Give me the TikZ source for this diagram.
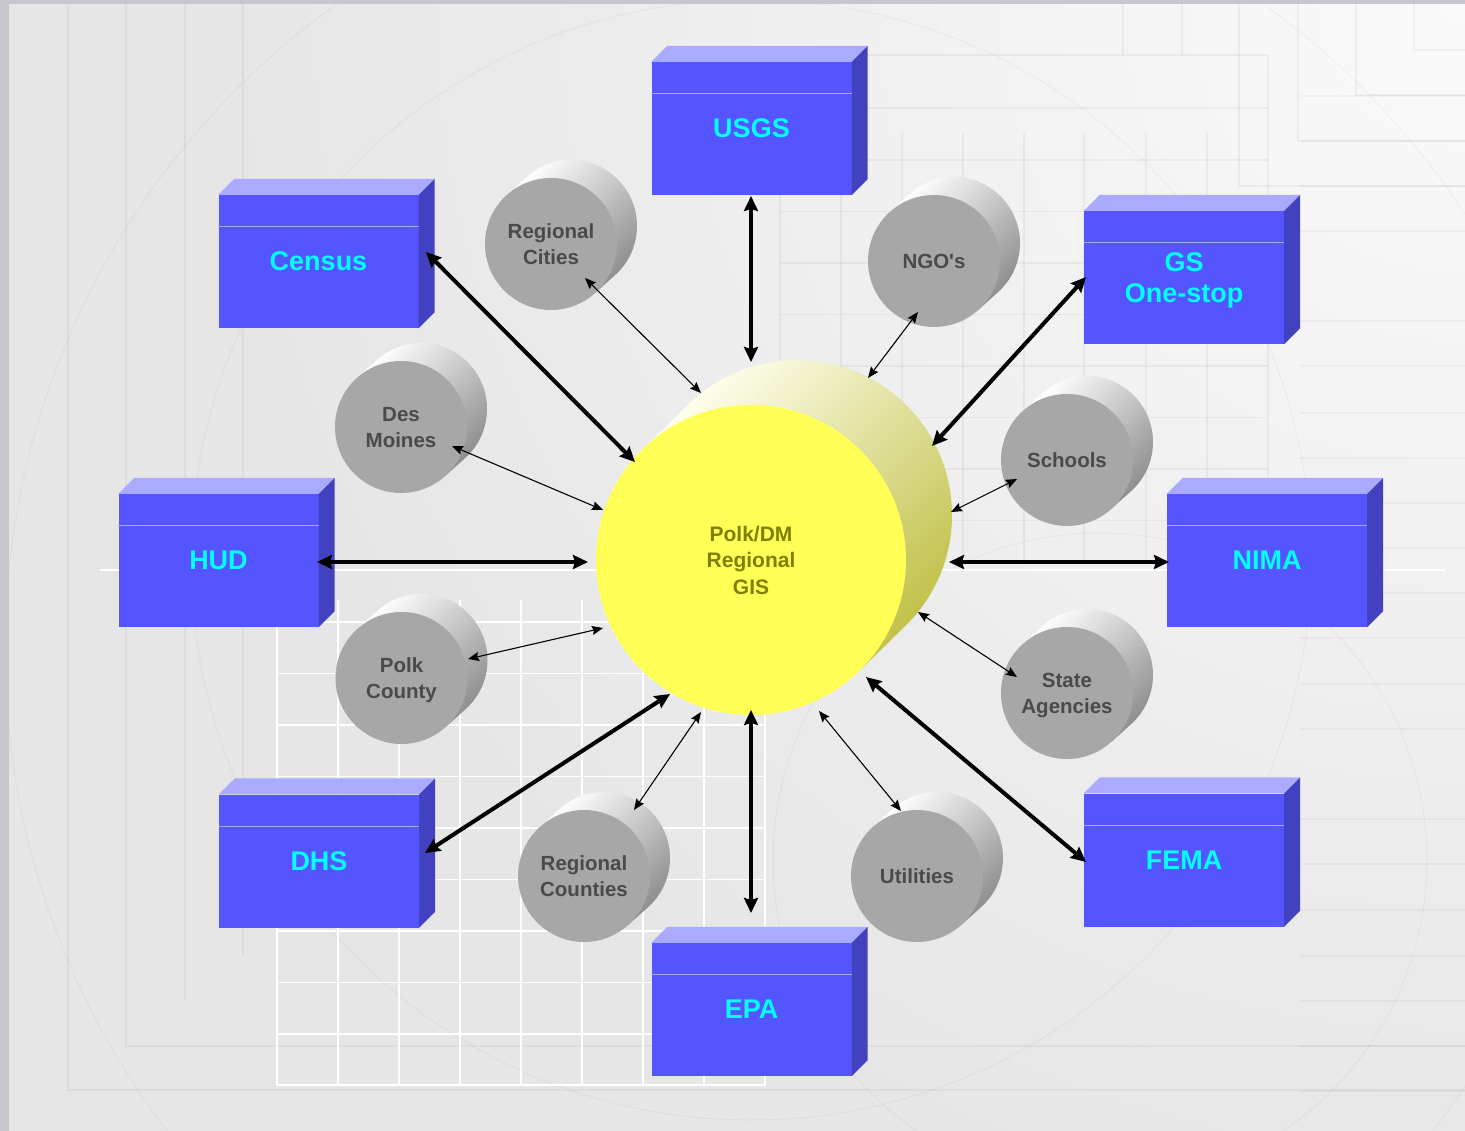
\documentclass[tikz,border=0pt]{standalone}
\usepackage{fontspec}
\setmainfont{Liberation Sans}[Ligatures=TeXOff]
\usetikzlibrary{arrows.meta}
\definecolor{bgbase}{RGB}{230,230,231}
\definecolor{strip}{RGB}{198,199,206}
\definecolor{boxfront}{RGB}{85,85,255}
\definecolor{boxtop}{RGB}{170,170,255}
\definecolor{boxside}{RGB}{66,66,192}
\definecolor{labcyan}{RGB}{0,255,255}
\definecolor{cylgray}{RGB}{167,167,167}
\definecolor{cylsidedark}{RGB}{140,140,140}
\definecolor{cyltext}{RGB}{74,74,74}
\definecolor{gisfront}{RGB}{255,255,85}
\definecolor{gisside1}{RGB}{255,255,240}
\definecolor{gisside2}{RGB}{192,192,70}
\definecolor{gistext}{RGB}{128,128,0}
\tikzset{
  cube/.style={fill=boxfront, minimum width=200pt, minimum height=133pt, inner sep=0pt,
    text=labcyan, font=\bfseries\fontsize{27}{31}\selectfont, align=center, text depth=0pt},
  cubetop/.style={fill=boxtop},
  cubeside/.style={fill=boxside},
  cuberule/.style={draw=boxtop, line width=1pt},
  graycyl/.style={circle, fill=cylgray, minimum size=132pt, inner sep=0pt,
    text=cyltext, font=\bfseries\fontsize{20.5}{26}\selectfont, align=center, text depth=0pt},
  giscyl/.style={circle, fill=gisfront, minimum size=310pt, inner sep=0pt,
    text=gistext, font=\bfseries\fontsize{21}{26.5}\selectfont, align=center},
  bigarrow/.style={line width=4pt, {Stealth[length=15pt,width=14pt,inset=2pt]}-{Stealth[length=15pt,width=14pt,inset=2pt]}},
  smallarrow/.style={line width=1.1pt, {Stealth[length=11pt,width=9pt,inset=1.5pt]}-{Stealth[length=11pt,width=9pt,inset=1.5pt]}},
  bgline/.style={draw=black, draw opacity=0.045, line width=1.3pt},
  bgarc/.style={draw=black, draw opacity=0.035, line width=1pt},
  bgwhite/.style={draw=white, line width=1.6pt},
}
\newcommand\bluecube[4]{%
  \node[cube] (#1) at (#2,#3) {#4};
  \fill[cubetop] (#1.north west) -- ++(16,-16) -- ([shift={(16,-16)}]#1.north east) -- (#1.north east) -- cycle;
  \fill[cubeside] (#1.north east) -- ++(16,-16) -- ([shift={(16,-16)}]#1.south east) -- (#1.south east) -- cycle;
  \draw[cuberule] ([shift={(0,32)}]#1.north west) -- ([shift={(0,32)}]#1.north east);
}
\newcommand\graycylinder[4]{%
  \shade[left color=white, right color=cylsidedark, shading angle=45]
    (#2,#3) ++(-132:66) -- ++(20,-18) arc[start angle=-132, end angle=48, radius=66] -- ++(-20,18) -- cycle;
  \node[graycyl] (#1) at (#2,#3) {#4};
}
\begin{document}
\begin{tikzpicture}[x=1pt,y=-1pt]
\useasboundingbox (0,0) rectangle (1465,1131);
% background
\fill[bgbase] (0,0) rectangle (1465,1131);
\begin{scope}
  \clip (0,0) rectangle (1465,1131);
  \shade[inner color=white!98!black, outer color=bgbase] (1465,0) circle (1250);
  % faint arcs
  \draw[bgarc] (800,650) circle (795);
  \draw[bgarc] (751,560) circle (560);
  \draw[bgarc] (1100,860) circle (327);
  % right-hand faint rules
  \foreach \gy in {96,141,186,231,321,366,413,458,503,548,593,638,684,729,819,864,910,956,1001,1046,1091}
    \draw[bgline, draw opacity=0.03] (1300,\gy) -- (1465,\gy);
  % left nested frames
  \draw[bgline] (68,4) -- (68,1090) -- (1465,1090);
  \draw[bgline] (126,4) -- (126,1046) -- (1465,1046);
  \draw[bgline] (185,4) -- (185,1000);
  \draw[bgline] (243,4) -- (243,955);
  % top-right nested frames
  \draw[bgline] (1298,4) -- (1298,141) -- (1465,141);
  \draw[bgline] (1356,4) -- (1356,95) -- (1465,95);
  \draw[bgline] (1414,4) -- (1414,50) -- (1465,50);
  \draw[bgline] (1239,4) -- (1239,186) -- (1465,186);
  \draw[bgline] (1123,4) -- (1123,55);
  \draw[bgline] (1182,4) -- (1182,55);
  \draw[bgline] (867,55) -- (1268,55) -- (1268,560);
  \draw[bgline] (867,108) -- (1268,108);
  % upper-right grid
  \foreach \gx in {780,841,902,963,1024,1084,1146,1207}
    \draw[bgline] (\gx,133) -- (\gx,560);
  \foreach \gy in {160,211.5,263,314.5,366,417.5,469,520.5}
    \draw[bgline] (780,\gy) -- (1268,\gy);
  % lower-left white grid
  \foreach \gx in {277,338,399,460,521,582,643,704,765}
    \draw[bgwhite] (\gx,600) -- (\gx,1085);
  \foreach \gy in {622,673.5,725,776.5,828,879.5,931,982.5,1034,1085}
    \draw[bgwhite] (277,\gy) -- (765,\gy);
  \draw[bgwhite] (100,570) -- (1445,570);
\end{scope}
\fill[strip] (0,0) rectangle (9,1131);
\fill[strip] (0,0) rectangle (1465,4);

% boxes
\bluecube{census}{318.5}{261.5}{Census}
\bluecube{usgs}{751.5}{128.5}{USGS}
\bluecube{gs}{1184}{277.5}{GS\\One-stop}
\bluecube{hud}{218.5}{560.5}{HUD}
\bluecube{nima}{1267}{560.5}{NIMA}
\bluecube{dhs}{319}{861}{DHS}
\bluecube{epa}{751.5}{1009.5}{EPA}
\bluecube{fema}{1184}{860}{FEMA}

% gray cylinders
\graycylinder{cities}{551}{244}{Regional\\Cities}
\graycylinder{ngo}{934}{261}{NGO's}
\graycylinder{desmoines}{401}{427}{Des\\Moines}
\graycylinder{schools}{1067}{460}{Schools}
\graycylinder{polk}{401.5}{678}{Polk\\County}
\graycylinder{state}{1067}{693}{State\\Agencies}
\graycylinder{counties}{584}{876}{Regional\\Counties}
\graycylinder{utilities}{917}{876}{Utilities}

% central cylinder
\shade[left color=gisside1, right color=gisside2, shading angle=45]
  (751,560) ++(-134:155) -- ++(46,-45) arc[start angle=-134, end angle=46, radius=155] -- ++(-46,45) -- cycle;
\node[giscyl] (gis) at (751,560) {Polk/DM\\Regional\\GIS};

% connector end points
\coordinate (census-a) at (426,252);   \coordinate (gis-census) at (635,462);
\coordinate (usgs-a) at (751,196);     \coordinate (gis-usgs) at (751,362);
\coordinate (gs-a) at (1086,277);      \coordinate (gis-gs) at (932,446);
\coordinate (hud-a) at (317,562);      \coordinate (gis-hud) at (588,562);
\coordinate (nima-a) at (1169,562);    \coordinate (gis-nima) at (949,562);
\coordinate (dhs-a) at (425,853);      \coordinate (gis-dhs) at (670,694);
\coordinate (epa-a) at (751,913);      \coordinate (gis-epa) at (751,710);
\coordinate (fema-a) at (1086,862);    \coordinate (gis-fema) at (866,677);
\coordinate (cities-a) at (585,278);   \coordinate (gis-cities) at (701,393);
\coordinate (ngo-a) at (918,312);      \coordinate (gis-ngo) at (868,378);
\coordinate (desmoines-a) at (452,446);\coordinate (gis-desmoines) at (603,510);
\coordinate (schools-a) at (1017,479); \coordinate (gis-schools) at (951,512);
\coordinate (polk-a) at (468,659);     \coordinate (gis-polk) at (603,628);
\coordinate (state-a) at (1017,677);   \coordinate (gis-state) at (918,612);
\coordinate (counties-a) at (634,810); \coordinate (gis-counties) at (701,712);
\coordinate (utilities-a) at (901,811);\coordinate (gis-utilities) at (819,711);

% thick connectors
\foreach \n in {census,usgs,gs,hud,nima,dhs,epa,fema}
  \draw[bigarrow] (\n-a) -- (gis-\n);
% thin connectors
\foreach \n in {cities,ngo,desmoines,schools,polk,state,counties,utilities}
  \draw[smallarrow] (\n-a) -- (gis-\n);
\end{tikzpicture}
\end{document}
